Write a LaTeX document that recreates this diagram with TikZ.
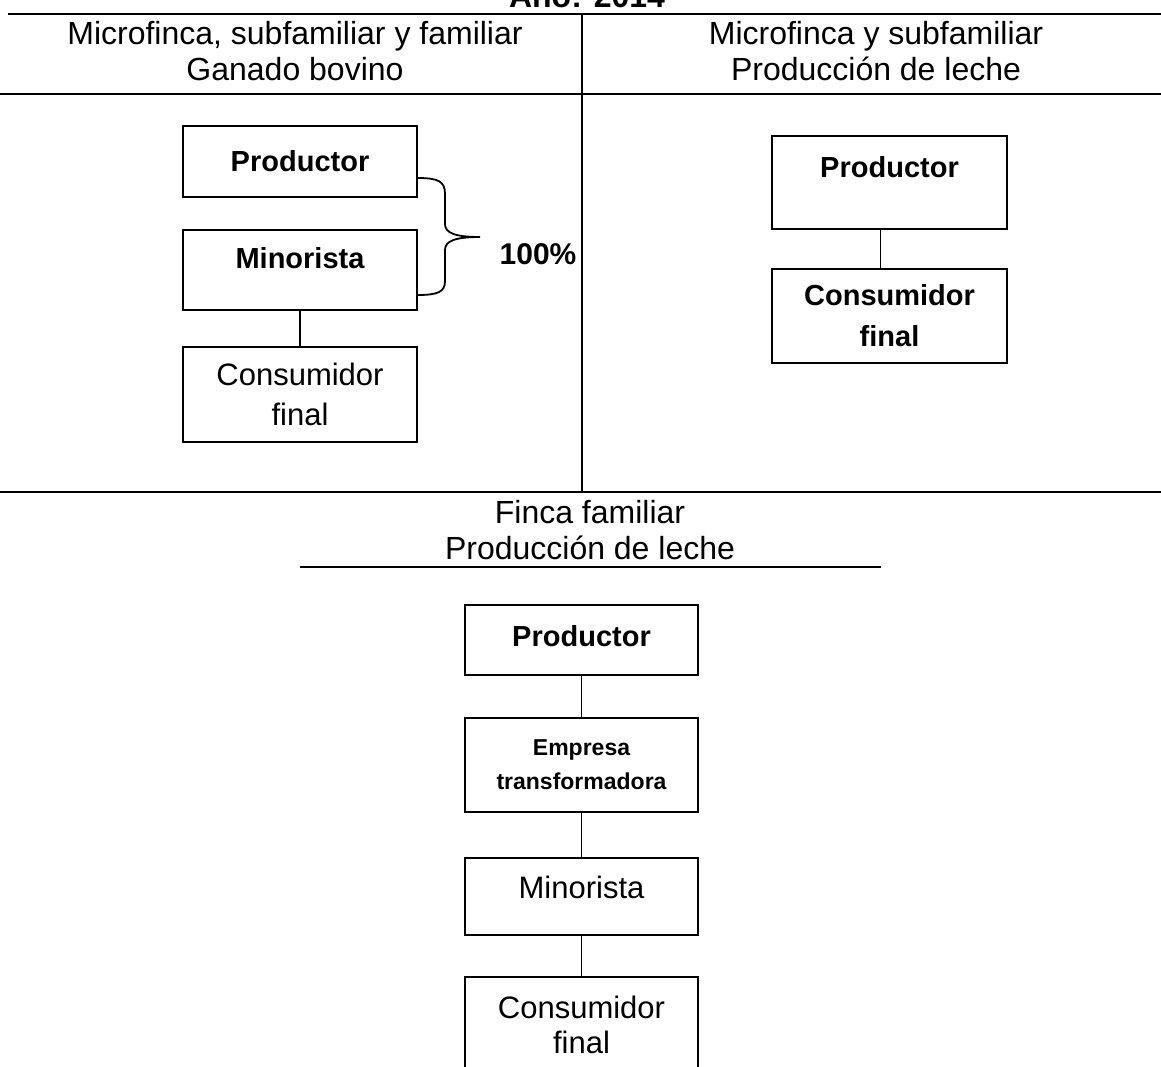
\documentclass[tikz,border=0pt]{standalone}
\usepackage{fontspec}
\setmainfont{Liberation Sans}
\begin{document}
\begin{tikzpicture}[x=1pt,y=-1pt,
  box/.style={draw, line width=2pt, inner sep=0pt, align=center, minimum width=234pt},
  sep/.style={line width=1.6pt},
  conn/.style={line width=1.8pt},
  head/.style={font=\fontsize{32}{36}\selectfont, align=center, inner sep=0pt},
  bt/.style={font=\bfseries\fontsize{29}{36}\selectfont},
  rt/.style={font=\fontsize{31}{40}\selectfont}
]
\useasboundingbox (0,0) rectangle (1161,1066);
\clip (0,0) rectangle (1161,1066);
\fill[white] (0,0) rectangle (1161,1066);

% title (cut off at top)
\node[font=\bfseries\fontsize{32}{36}\selectfont, anchor=base, inner sep=0pt] (title) at (587,7) {Año: 2014};

% separators
\coordinate (t1) at (8,14);   \coordinate (t2) at (1161,14);
\coordinate (h1) at (0,94);   \coordinate (h2) at (1161,94);
\coordinate (m1) at (0,492);  \coordinate (m2) at (1161,492);
\coordinate (v1) at (582,14); \coordinate (v2) at (582,492);
\coordinate (u1) at (300,567); \coordinate (u2) at (881,567);
\draw[sep] (t1) -- (t2);
\draw[sep] (h1) -- (h2);
\draw[sep] (m1) -- (m2);
\draw[line width=2.2pt] (v1) -- (v2);
\draw[sep] (u1) -- (u2);

% headings
\node[head] (hl) at (295,51) {Microfinca, subfamiliar y familiar\\Ganado bovino};
\node[head] (hr) at (876,51) {Microfinca y subfamiliar\\Producción de leche};
\node[head] (hb) at (590,530) {Finca familiar\\Producción de leche};

% left column
\node[box, bt, minimum height=71pt] (lp) at (300,161) {Productor};
\node[box, bt, minimum height=80pt] (lm) at (300,269.5) {\raisebox{11pt}[\height][\depth]{Minorista}};
\node[box, rt, minimum height=95pt] (lc) at (300,394.5) {Consumidor\\final};
\draw[conn] (lm.south) -- (lc.north);

% brace
\coordinate (b1) at (417,178);
\coordinate (b2) at (417,295);
\coordinate (btip) at (480,237);
\draw[conn] (b1) .. controls (438,178) and (445,181) .. (445,194) -- (445,224)
  .. controls (445,233) and (455,237) .. (btip)
  .. controls (455,237) and (445,241) .. (445,250) -- (445,281)
  .. controls (445,292) and (438,295) .. (b2);
\node[font=\bfseries\fontsize{30}{36}\selectfont, inner sep=0pt] (pct) at (538,254) {100\%};

% right column
\node[box, bt, minimum width=235pt, minimum height=93pt] (rp) at (889.5,182.5) {\raisebox{15pt}[\height][\depth]{Productor}};
\node[box, font=\bfseries\fontsize{29}{41}\selectfont, minimum width=235pt, minimum height=94pt] (rc) at (889.5,316) {Consumidor\\final};
\draw[conn] ([xshift=-9pt]rp.south) -- ([xshift=-9pt]rc.north);

% bottom column
\node[box, bt, minimum width=233pt, minimum height=70pt] (bp) at (581.5,640) {\raisebox{4pt}[\height][\depth]{Productor}};
\node[box, font=\bfseries\fontsize{23}{34}\selectfont, minimum width=233pt, minimum height=94pt] (be) at (581.5,765) {Empresa\\transformadora};
\node[box, rt, minimum width=233pt, minimum height=77pt] (bm) at (581.5,896.5) {\raisebox{9pt}[\height][\depth]{Minorista}};
\node[box, font=\fontsize{31}{35}\selectfont, minimum width=233pt, minimum height=96pt] (bc) at (581.5,1025) {Consumidor\\final};
\draw[conn] (bp.south) -- (be.north);
\draw[conn] (be.south) -- (bm.north);
\draw[conn] (bm.south) -- (bc.north);
\end{tikzpicture}
\end{document}
